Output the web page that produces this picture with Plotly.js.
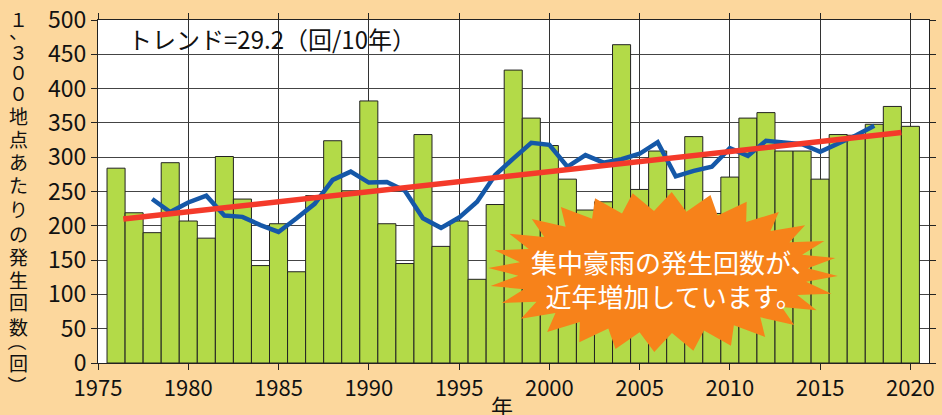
<!DOCTYPE html>
<html>
<head>
<meta charset="utf-8">
<script src="https://cdn.plot.ly/plotly-3.0.1.min.js"></script>
<style>
  html, body { margin: 0; padding: 0; background: #FCD79D; }
  #chart { width: 942px; height: 415px; }
</style>
</head>
<body>
<div id="chart"></div>
<script>
// ---- data ----
const years = [1976,1977,1978,1979,1980,1981,1982,1983,1984,1985,1986,1987,1988,1989,1990,
  1991,1992,1993,1994,1995,1996,1997,1998,1999,2000,2001,2002,2003,2004,2005,
  2006,2007,2008,2009,2010,2011,2012,2013,2014,2015,2016,2017,2018,2019,2020];
const counts = [284,219,190,292,207,182,301,239,142,203,133,244,324,251,382,
  203,145,333,170,207,122,231,427,357,317,268,223,235,464,253,
  309,253,330,218,271,357,365,309,309,268,333,332,348,374,345];

const maYears = [1978,1979,1980,1981,1982,1983,1984,1985,1986,1987,1988,1989,1990,1991,
  1992,1993,1994,1995,1996,1997,1998,1999,2000,2001,2002,2003,2004,2005,2006,2007,
  2008,2009,2010,2011,2012,2013,2014,2015,2016,2017,2018];
const maValues = [239,220,234,244,215,213,201,191,211,232,267,279,263,264,
  251,211,197,212,235,274,298,321,318,286,303,292,297,305,322,272,
  280,286,313,302,324,321,319,308,320,332,346];

const trendX = [1976.4, 2019.5];
const trendY = [210, 336];

const xTickVals = [1975,1980,1985,1990,1995,2000,2005,2010,2015,2020];
const yTickVals = [0,50,100,150,200,250,300,350,400,450,500];

const trendLabel = 'トレンド=29.2（回/10年）';
const calloutText = '集中豪雨の発生回数が、<br>近年増加しています。';
const yTitleChars = ['１','、','３','０','０','地','点','あ','た','り','の','発','生','回','数','（','回','）'];
const xTitle = '年';

// ---- layout geometry (pixel -> paper) ----
const W = 942, H = 415;
const M = {l: 98, r: 13, t: 20, b: 52};
const PW = W - M.l - M.r, PH = H - M.t - M.b;
const px = x => (x - M.l) / PW;
const py = y => (H - M.b - y) / PH;

// vertical placement (pixels from top) of each character of the vertical y-axis title
const titleCharY = [18, 31, 51, 71, 92, 115, 138, 161, 184, 208, 233, 256, 279, 301, 326, 347, 362, 379];

// starburst decoration path
function starburst(cx, cy, rxo, ryo, rxi, ryi, n) {
  let d = '';
  for (let i = 0; i < 2 * n; i++) {
    const a = Math.PI * i / n + 0.05;
    const outer = i % 2 === 0;
    const rx = outer ? rxo : rxi, ry = outer ? ryo : ryi;
    const x = cx + rx * Math.cos(a), y = cy + ry * Math.sin(a);
    d += (i === 0 ? 'M' : 'L') + px(x).toFixed(4) + ',' + py(y).toFixed(4);
  }
  return d + 'Z';
}

const font = '"Noto Sans CJK JP", "Noto Sans", sans-serif';

const traces = [
  {
    type: 'bar', x: years, y: counts, width: 1,
    marker: {color: '#B3DA48', line: {color: '#222', width: 1}},
    hoverinfo: 'x+y'
  },
  {
    type: 'scatter', mode: 'lines', x: maYears, y: maValues,
    line: {color: '#1558A8', width: 4.5}
  },
  {
    type: 'scatter', mode: 'lines', x: trendX, y: trendY,
    line: {color: '#F43A2A', width: 5.5}
  }
];

const annotations = [
  {
    text: trendLabel, xref: 'paper', yref: 'paper',
    x: px(126), y: py(38), xanchor: 'left', yanchor: 'middle',
    showarrow: false, font: {family: font, size: 24, color: '#111'}
  },
  {
    text: calloutText, xref: 'paper', yref: 'paper',
    x: px(673), y: py(278), xanchor: 'center', yanchor: 'middle',
    showarrow: false, align: 'center',
    font: {family: font, size: 26, color: '#FFFFFF'}
  },
  {
    text: xTitle, xref: 'paper', yref: 'paper',
    x: px(502), y: py(405), xanchor: 'center', yanchor: 'middle',
    showarrow: false, font: {family: font, size: 22, color: '#111'}
  }
];
yTitleChars.forEach((ch, i) => {
  const isOpen = ch === '（', isClose = ch === '）';
  annotations.push({
    text: ch,
    xref: 'paper', yref: 'paper',
    x: px(18), y: py(titleCharY[i]), xanchor: 'center', yanchor: 'middle',
    textangle: (isOpen || isClose) ? 90 : 0,
    yshift: isOpen ? 6 : (isClose ? -6 : 0),
    showarrow: false, font: {family: font, size: 19, color: '#111'}
  });
});

const layout = {
  width: W, height: H,
  margin: M,
  paper_bgcolor: '#FCD79D',
  plot_bgcolor: '#FFFFFF',
  showlegend: false,
  bargap: 0,
  font: {family: font, color: '#111', size: 22},
  xaxis: {
    range: [1975, 2021.03],
    tickvals: xTickVals,
    ticks: 'outside', ticklen: 6, tickcolor: '#222', tickwidth: 1,
    showline: true, linecolor: '#222', linewidth: 1, mirror: 'allticks',
    showgrid: true, gridcolor: '#333', gridwidth: 1,
    zeroline: false,
    tickfont: {family: font, size: 22, color: '#111'},
    title: {text: ''}
  },
  yaxis: {
    range: [0, 500],
    tickvals: yTickVals,
    ticks: 'outside', ticklen: 6, tickcolor: '#222', tickwidth: 1,
    showline: true, linecolor: '#222', linewidth: 1, mirror: 'allticks',
    showgrid: true, gridcolor: '#444', gridwidth: 1,
    zeroline: false,
    tickfont: {family: font, size: 23, color: '#111'},
    title: {text: ''}
  },
  shapes: [
    {
      type: 'path', xref: 'paper', yref: 'paper', layer: 'above',
      path: starburst(663, 272, 175, 80, 145, 61, 28),
      fillcolor: '#F7821A', line: {width: 0}
    }
  ],
  annotations: annotations
};

Plotly.newPlot('chart', traces, layout, {displayModeBar: false, staticPlot: true});
</script>
</body>
</html>
